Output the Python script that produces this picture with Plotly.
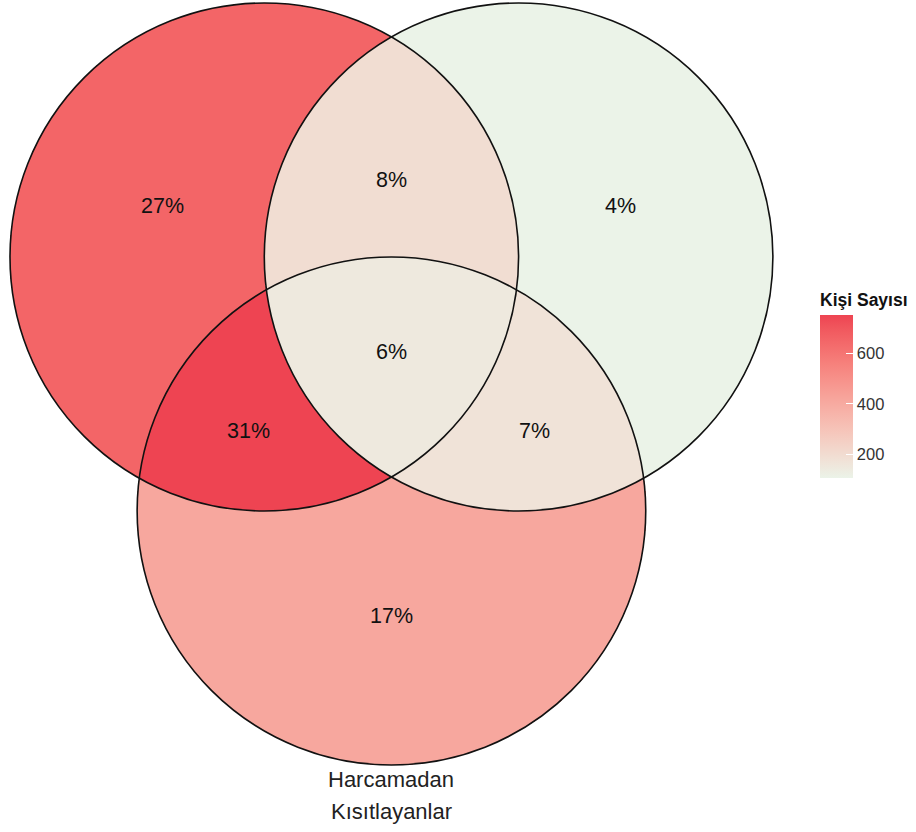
import numpy as np
import plotly.graph_objects as go

# ---- data ----
# region membership: (in A, in B, in C)
region_keys = [(1, 0, 0), (1, 1, 0), (0, 1, 0), (1, 1, 1), (1, 0, 1), (0, 1, 1), (0, 0, 1)]
region_counts = [655, 194, 106, 146, 752, 170, 412]
set_label_c = "Harcamadan Kısıtlayanlar"
colorbar_title = "Kişi Sayısı"
colorbar_ticks = [200, 400, 600]
low_color = "#EBF3E8"
high_color = "#EE4452"

# ---- geometry (layout) ----
R = 1.0
centers = [(-0.5, 0.0), (0.5, 0.0), (0.0, -1.0)]

# ---- Lab-interpolated colorscale (like ggplot gradient) ----
def hex2rgb(h):
    h = h.lstrip("#")
    return np.array([int(h[i:i + 2], 16) / 255 for i in (0, 2, 4)])

def srgb2lin(c):
    return np.where(c <= 0.04045, c / 12.92, ((c + 0.055) / 1.055) ** 2.4)

def lin2srgb(c):
    c = np.clip(c, 0, 1)
    return np.where(c <= 0.0031308, 12.92 * c, 1.055 * c ** (1 / 2.4) - 0.055)

M = np.array([[0.4124, 0.3576, 0.1805], [0.2126, 0.7152, 0.0722], [0.0193, 0.1192, 0.9505]])
Minv = np.linalg.inv(M)
WP = np.array([0.95047, 1.0, 1.08883])

def f(t):
    return np.where(t > (6 / 29) ** 3, np.cbrt(t), t / (3 * (6 / 29) ** 2) + 4 / 29)

def finv(t):
    return np.where(t > 6 / 29, t ** 3, 3 * (6 / 29) ** 2 * (t - 4 / 29))

def rgb2lab(rgb):
    xyz = M @ srgb2lin(rgb) / WP
    fx, fy, fz = f(xyz)
    return np.array([116 * fy - 16, 500 * (fx - fy), 200 * (fy - fz)])

def lab2rgb(lab):
    L, a, b = lab
    fy = (L + 16) / 116
    fx = fy + a / 500
    fz = fy - b / 200
    xyz = np.array([finv(fx), finv(fy), finv(fz)]) * WP
    return lin2srgb(Minv @ xyz)

lab_lo, lab_hi = rgb2lab(hex2rgb(low_color)), rgb2lab(hex2rgb(high_color))
colorscale = []
for t in np.linspace(0, 1, 11):
    c = lab2rgb(lab_lo + (lab_hi - lab_lo) * t)
    r, g, b = (np.round(c * 255)).astype(int)
    colorscale.append([float(t), f"rgb({r},{g},{b})"])

# ---- region raster ----
n = 800
xs = np.linspace(-1.5, 1.5, n)
ys = np.linspace(-2.0, 1.0, n)
X, Y = np.meshgrid(xs, ys)
inside = [((X - cx) ** 2 + (Y - cy) ** 2) <= R ** 2 for cx, cy in centers]
Z = np.full(X.shape, np.nan, dtype=np.float32)
centroids = []
for key, cnt in zip(region_keys, region_counts):
    mask = np.ones(X.shape, dtype=bool)
    for k, ins in zip(key, inside):
        mask &= ins if k else ~ins
    Z[mask] = cnt
    centroids.append((X[mask].mean(), Y[mask].mean()))

total = sum(region_counts)
FONT = "Liberation Sans, Arial, Helvetica"

fig = go.Figure()
fig.add_trace(go.Heatmap(
    x=xs, y=ys, z=Z, colorscale=colorscale, zsmooth=False, hoverinfo="skip",
    colorbar=dict(
        title=dict(text=f"<b>{colorbar_title}</b>", side="top",
                   font=dict(size=17.5, color="#111111", family=FONT)),
        x=1.025, xanchor="left", xpad=0, y=1 - 384 / 832, yanchor="middle", ypad=0,
        len=188, lenmode="pixels", thickness=33, outlinewidth=0,
        ticks="inside", ticklen=7, tickcolor="white", tickwidth=1,
        tickvals=colorbar_ticks, tickprefix="\u00a0\u00a0\u00a0",
        tickfont=dict(size=16.5, color="#333333", family=FONT),
    ),
))

for cx, cy in centers:
    fig.add_shape(type="circle", xref="x", yref="y", x0=cx - R, x1=cx + R, y0=cy - R, y1=cy + R,
                  line=dict(color="#111111", width=1.6), layer="above")

for (px, py), cnt in zip(centroids, region_counts):
    fig.add_annotation(x=px, y=py, text=f"{round(cnt / total * 100)}%", showarrow=False,
                       yshift=-3, font=dict(size=21.5, color="#111111", family=FONT))

for i, word in enumerate(set_label_c.split(" ")):
    fig.add_annotation(x=0, y=1.0118 - (779 + 32 * i) / 254, text=word, showarrow=False,
                       font=dict(size=22, color="#222222", family=FONT))

fig.update_layout(
    width=916, height=832, margin=dict(l=0, r=116, t=0, b=0),
    paper_bgcolor="white", plot_bgcolor="white", showlegend=False,
    xaxis=dict(range=[-1.5393, 1.6066], visible=False, fixedrange=True),
    yaxis=dict(range=[-2.2638, 1.0118], visible=False, fixedrange=True),
)
fig.write_html("out.html", config={"displayModeBar": False},
               post_script="document.body.style.margin='0';document.body.style.overflow='hidden';")
